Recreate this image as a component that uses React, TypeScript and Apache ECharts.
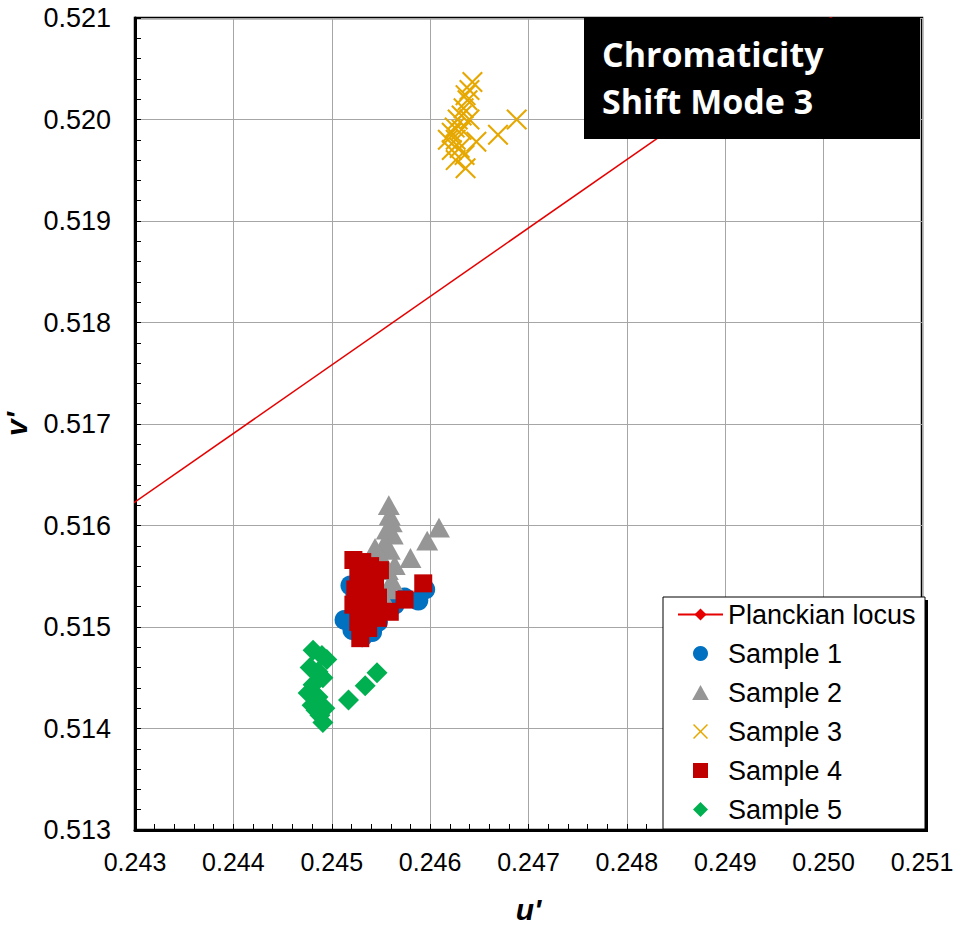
import React, { useEffect, useRef } from "react";
import * as echarts from "echarts";

// Axis ranges / ticks
const U_MIN = 0.243;
const U_MAX = 0.251;
const V_MIN = 0.513;
const V_MAX = 0.521;
const TICK_STEP = 0.001;

const titleLines = ["Chromaticity", "Shift Mode 3"];

// Planckian locus (u', v') – straight segment over this small range
const planckian: [number, number][] = [
  [0.242, 0.515557],
  [0.251, 0.52163],
];

const sample1: [number, number][] = [
  [0.24519, 0.51541], [0.24513, 0.51507], [0.24521, 0.51497], [0.24531, 0.5149],
  [0.24541, 0.51495], [0.24547, 0.51505], [0.24529, 0.51522], [0.24524, 0.51532],
  [0.24534, 0.51512], [0.24557, 0.51517], [0.24574, 0.51529], [0.24588, 0.51526],
  [0.24595, 0.51537], [0.24564, 0.51522],
];

const sample2: [number, number][] = [
  [0.24558, 0.5162], [0.24559, 0.5161], [0.24561, 0.51603], [0.24556, 0.51596],
  [0.24562, 0.51591], [0.24554, 0.51583], [0.24559, 0.51576], [0.24549, 0.51571],
  [0.24564, 0.51561], [0.24557, 0.51556], [0.24561, 0.51546], [0.24559, 0.51537],
  [0.24554, 0.51527], [0.2458, 0.51568], [0.24597, 0.51585], [0.24609, 0.51598],
  [0.24544, 0.51578],
];

const sample3: [number, number][] = [
  [0.24643, 0.52037], [0.2464, 0.52029], [0.24636, 0.52024], [0.24638, 0.52019],
  [0.24634, 0.52011], [0.24632, 0.52004], [0.24628, 0.52], [0.24625, 0.51992],
  [0.24622, 0.51987], [0.24618, 0.5198], [0.24626, 0.5198], [0.2463, 0.51972],
  [0.24622, 0.5197], [0.24635, 0.51965], [0.24626, 0.5196], [0.24636, 0.51952],
  [0.24647, 0.51978], [0.24669, 0.51985], [0.24688, 0.52], [0.24632, 0.5199],
  [0.2464, 0.52],
];

const sample4: [number, number][] = [
  [0.24522, 0.51566], [0.24531, 0.51564], [0.24539, 0.5156], [0.24527, 0.51554],
  [0.24537, 0.51548], [0.24544, 0.51541], [0.24524, 0.51537], [0.24534, 0.51532],
  [0.24547, 0.51529], [0.24522, 0.51522], [0.24531, 0.51515], [0.24541, 0.51517],
  [0.24527, 0.51505], [0.24537, 0.51499], [0.24547, 0.51509], [0.24529, 0.51489],
  [0.24559, 0.51515], [0.24574, 0.51527], [0.24593, 0.51543], [0.24549, 0.51556],
];

const sample5: [number, number][] = [
  [0.24481, 0.51477], [0.2449, 0.51472], [0.24495, 0.51468], [0.24478, 0.5146],
  [0.24486, 0.51456], [0.24491, 0.5145], [0.24481, 0.51443], [0.24476, 0.51435],
  [0.24486, 0.51431], [0.2448, 0.51423], [0.24493, 0.5142], [0.24488, 0.51413],
  [0.24491, 0.51406], [0.24484, 0.51418], [0.24517, 0.51428], [0.24534, 0.51442],
  [0.24546, 0.51455],
];

const seriesNames = ["Planckian locus", "Sample 1", "Sample 2", "Sample 3", "Sample 4", "Sample 5"];

const X_SYMBOL =
  "path://M0,0.7 L0.7,0 L5,4.3 L9.3,0 L10,0.7 L5.7,5 L10,9.3 L9.3,10 L5,5.7 L0.7,10 L0,9.3 L4.3,5 Z";
const TRI_SYMBOL = "path://M5,0 L10,9 L0,9 Z";
const SQ_SYMBOL = "path://M0,0 L10,0 L10,10 L0,10 Z";
const DIA_SYMBOL = "path://M5,0 L10,5 L5,10 L0,5 Z";

const FONT = "'Liberation Sans', Arial, sans-serif";
const TITLE_FONT = "bold 34px 'Open Sans', 'Noto Sans', sans-serif";

export default function App() {
  const ref = useRef<HTMLDivElement>(null);

  useEffect(() => {
    if (!ref.current) return;
    const chart = echarts.init(ref.current, undefined, { renderer: "svg" });

    const axisCommon = {
      interval: TICK_STEP,
      axisLine: { show: true, onZero: false, lineStyle: { color: "#000", width: 3 } },
      axisTick: { show: true, inside: true, length: 6, lineStyle: { color: "#000", width: 1 } },
      minorTick: { show: true, splitNumber: 5, length: 6, lineStyle: { color: "#000", width: 1 } },
      splitLine: { show: true, lineStyle: { color: "#a6a6a6", width: 1 } },
      axisLabel: {
        color: "#000",
        fontSize: 27,
        fontFamily: FONT,
        formatter: (v: number) => v.toFixed(3),
      },
      nameTextStyle: {
        color: "#000",
        fontSize: 30,
        fontWeight: "bold",
        fontStyle: "italic",
        fontFamily: FONT,
      },
    };

    chart.setOption({
      animation: false,
      backgroundColor: "#fff",
      grid: {
        left: 135,
        top: 18,
        right: 31,
        bottom: 97,
        show: true,
        borderColor: "#000",
        borderWidth: 2.5,
        backgroundColor: "transparent",
        containLabel: false,
        outerBoundsMode: "none",
      },
      xAxis: {
        ...axisCommon,
        type: "value",
        min: U_MIN,
        max: U_MAX,
        name: "u'",
        nameLocation: "middle",
        nameGap: 64,
        axisLabel: { ...axisCommon.axisLabel, fontSize: 25, margin: 19 },
      },
      yAxis: {
        ...axisCommon,
        type: "value",
        min: V_MIN,
        max: V_MAX,
        name: "v'",
        nameLocation: "middle",
        nameGap: 104,
        axisLabel: { ...axisCommon.axisLabel, margin: 24 },
      },
      legend: {
        show: true,
        orient: "vertical",
        left: 677,
        top: 601,
        padding: 0,
        itemWidth: 45,
        itemHeight: 15,
        itemGap: 12,
        selectedMode: false,
        symbolKeepAspect: true,
        z: 6,
        textStyle: { color: "#000", fontSize: 27, lineHeight: 27, fontFamily: FONT },
        data: [
          { name: seriesNames[0] },
          { name: seriesNames[1], icon: "circle" },
          { name: seriesNames[2], icon: TRI_SYMBOL },
          { name: seriesNames[3], icon: X_SYMBOL },
          { name: seriesNames[4], icon: SQ_SYMBOL },
          { name: seriesNames[5], icon: DIA_SYMBOL },
        ],
      },
      graphic: [
        {
          type: "rect",
          z: 5,
          shape: { x: 666, y: 600, width: 262, height: 232 },
          style: { fill: "#000" },
        },
        {
          type: "rect",
          z: 5,
          shape: { x: 663, y: 597, width: 262, height: 232 },
          style: { fill: "#fff", stroke: "#000", lineWidth: 1 },
        },
        {
          type: "rect",
          z: 7,
          shape: { x: 584, y: 18, width: 336, height: 121 },
          style: { fill: "#000" },
        },
        {
          type: "text",
          z: 8,
          x: 602,
          y: 54,
          style: {
            text: titleLines[0],
            fill: "#fff",
            font: TITLE_FONT,
            verticalAlign: "middle",
          },
        },
        {
          type: "text",
          z: 8,
          x: 602,
          y: 101,
          style: {
            text: titleLines[1],
            fill: "#fff",
            font: TITLE_FONT,
            verticalAlign: "middle",
          },
        },
      ],
      series: [
        {
          name: seriesNames[0],
          type: "line",
          data: planckian,
          symbol: "diamond",
          symbolSize: 10,
          clip: true,
          lineStyle: { color: "#e60000", width: 1.5 },
          itemStyle: { color: "#e60000" },
          z: 3,
        },
        {
          name: seriesNames[1],
          type: "scatter",
          data: sample1,
          symbol: "circle",
          symbolSize: 20,
          itemStyle: { color: "#0070c0", opacity: 1 },
          z: 2,
        },
        {
          name: seriesNames[2],
          type: "scatter",
          data: sample2,
          symbol: TRI_SYMBOL,
          symbolKeepAspect: true,
          symbolSize: 22,
          itemStyle: { color: "#969696", opacity: 1 },
          z: 2,
        },
        {
          name: seriesNames[3],
          type: "scatter",
          data: sample3,
          symbol: X_SYMBOL,
          symbolKeepAspect: true,
          symbolSize: 21,
          itemStyle: { color: "#e6a800", opacity: 1 },
          z: 2,
        },
        {
          name: seriesNames[4],
          type: "scatter",
          data: sample4,
          symbol: SQ_SYMBOL,
          symbolKeepAspect: true,
          symbolSize: 18,
          itemStyle: { color: "#c00000", opacity: 1 },
          z: 2,
        },
        {
          name: seriesNames[5],
          type: "scatter",
          data: sample5,
          symbol: DIA_SYMBOL,
          symbolKeepAspect: true,
          symbolSize: 21,
          itemStyle: { color: "#00b050", opacity: 1 },
          z: 2,
        },
      ],
    });

    return () => chart.dispose();
  }, []);

  return <div ref={ref} style={{ width: 953, height: 927, position: "absolute", left: 0, top: 0 }} />;
}
